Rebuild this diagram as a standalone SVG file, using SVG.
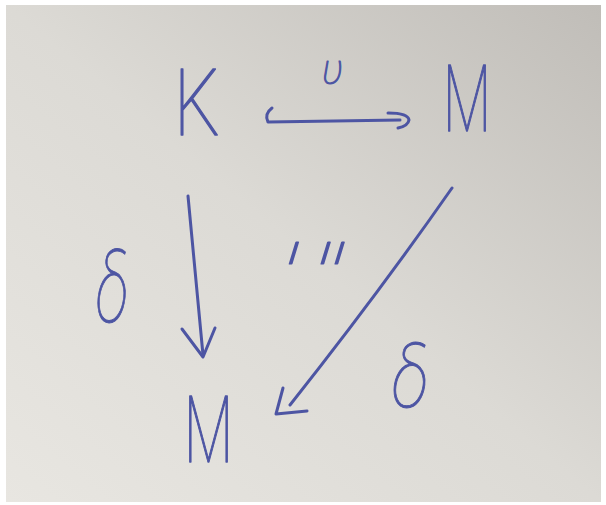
<svg xmlns="http://www.w3.org/2000/svg" width="606" height="505" viewBox="0 0 606 505">
<defs>
<linearGradient id="paper" x1="0" y1="1" x2="1" y2="0">
<stop offset="0" stop-color="#e8e6e1"/>
<stop offset="0.5" stop-color="#dcdad5"/>
<stop offset="1" stop-color="#c0bdb8"/>
</linearGradient>
<style>
.ink{fill:none;stroke:#4d55a3;stroke-width:3;stroke-linecap:round;stroke-linejoin:round}
.lbl{font-family:Roboto,"Open Sans","Liberation Sans",sans-serif;font-weight:100;fill:#4d55a3;stroke:#4d55a3;stroke-linejoin:round}
.node{font-size:92px;stroke-width:1.4}
.greek{font-style:italic;stroke-width:1}
</style>
</defs>
<rect width="606" height="505" fill="#ffffff"/>
<rect x="6" y="5" width="595" height="497" fill="url(#paper)"/>

<g id="node-K"><text class="lbl node" x="174" y="135" textLength="46" lengthAdjust="spacingAndGlyphs">K</text></g>
<g id="node-M-top"><text class="lbl node" x="443" y="131" textLength="48" lengthAdjust="spacingAndGlyphs">M</text></g>
<g id="node-M-bottom"><text class="lbl node" x="184" y="462" textLength="49" lengthAdjust="spacingAndGlyphs">M</text></g>

<g id="connectors">
<path class="ink" d="M272 108 Q264 114 268 122 L400 120"/>
<path class="ink" d="M388 113 Q408 113 409 120 Q408 126 398 128"/>
<path class="ink" d="M188 196 L203 355"/>
<path class="ink" d="M182 329 L203 357 L215 328"/>
<path class="ink" d="M452 188 Q378 294 290 405"/>
<path class="ink" d="M283 388 L276 414 L307 411"/>
</g>

<g id="labels">
<text class="lbl greek" x="322" y="84" font-size="42">υ</text>
<text class="lbl greek" x="96" y="322" font-size="96" textLength="32" lengthAdjust="spacingAndGlyphs">δ</text>
<text class="lbl greek" x="392" y="407" font-size="86" textLength="36" lengthAdjust="spacingAndGlyphs">δ</text>
<text class="lbl greek" x="287" y="264" font-size="40" textLength="60" lengthAdjust="spacingAndGlyphs">ı ıı</text>
</g>
</svg>
